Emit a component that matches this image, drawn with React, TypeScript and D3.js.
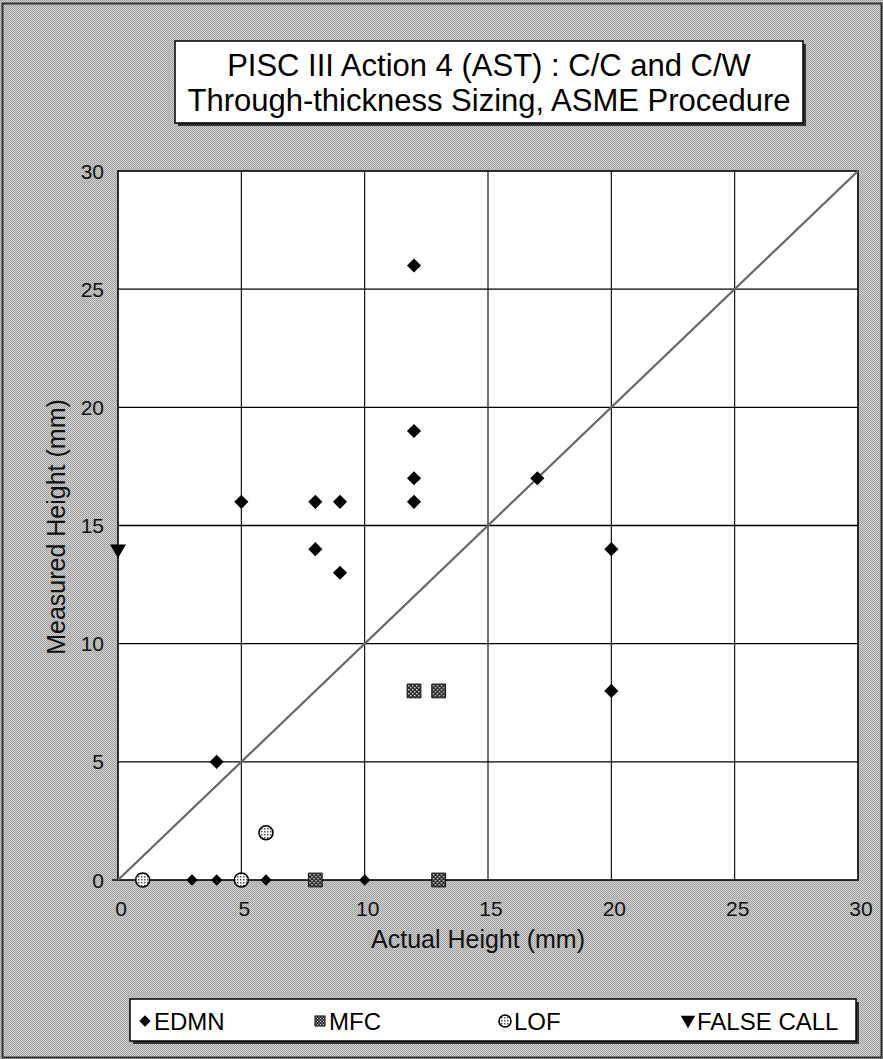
import React from "react";
import * as d3 from "d3";

const W = 883;
const H = 1059;

const titleLines = ["PISC III Action 4 (AST) : C/C and C/W", "Through-thickness Sizing, ASME Procedure"];
const xTicks = [0, 5, 10, 15, 20, 25, 30];
const yTicks = [0, 5, 10, 15, 20, 25, 30];
const xLabel = "Actual Height (mm)";
const yLabel = "Measured Height (mm)";

const edmnX = [12, 12, 12, 12, 17, 5, 8, 9, 8, 9, 20, 20, 4, 3, 4, 6, 10];
const edmnY = [26, 19, 17, 16, 17, 16, 16, 16, 14, 13, 14, 8, 5, 0, 0, 0, 0];
const mfcX = [12, 13, 8, 13];
const mfcY = [8, 8, 0, 0];
const lofX = [6, 1, 5];
const lofY = [2, 0, 0];
const falseX = [0];
const falseY = [14];

const legendItems = ["EDMN", "MFC", "LOF", "FALSE CALL"];

const FONT = "'Liberation Sans', Arial, Helvetica, sans-serif";

export default function App() {
  const x = d3.scaleLinear().domain([0, 30]).range([118, 858]);
  const y = d3.scaleLinear().domain([0, 30]).range([880, 171]);
  const x0 = x(0), x1 = x(30), y0 = y(0), y1 = y(30);

  const sq = d3.symbol().type(d3.symbolSquare).size(100)() as string;
  const mfcSq = d3.symbol().type(d3.symbolSquare).size(190)() as string;
  const tri = d3.symbol().type(d3.symbolTriangle).size(110)() as string;

  const diag = d3.line<number>().x((v) => x(v)).y((v) => y(v))([0, 30]) as string;

  const legendY = 1021;
  const legendPos = [145, 320, 505, 688];

  const diamond = (cx: number, cy: number, key: any, scale = 1) => (
    <path key={key} d={sq} transform={`translate(${cx},${cy}) rotate(45) scale(${scale})`} fill="#000" />
  );
  const mfc = (cx: number, cy: number, key: any, scale = 1) => (
    <path key={key} d={mfcSq} transform={`translate(${cx},${cy}) scale(${scale})`} fill="url(#hatch)" stroke="#111" strokeWidth={1} />
  );
  const lof = (cx: number, cy: number, key: any, r = 7) => (
    <circle key={key} cx={cx} cy={cy} r={r} fill="url(#dots)" stroke="#000" strokeWidth={1.6} />
  );
  const tr = (cx: number, cy: number, key: any, scale = 1) => (
    <path key={key} d={tri} transform={`translate(${cx},${cy}) rotate(180) scale(${scale})`} fill="#000" />
  );

  return (
    <svg width={W} height={H} style={{ position: "absolute", left: 0, top: 0 }} fontFamily={FONT}>
      <defs>
        <pattern id="half" width={2} height={2} patternUnits="userSpaceOnUse">
          <rect width={2} height={2} fill="#d2d2d2" />
          <rect x={0} y={0} width={1} height={1} fill="#999" />
          <rect x={1} y={1} width={1} height={1} fill="#a6a6a6" />
        </pattern>
        <pattern id="hatch" width={4} height={4} patternUnits="userSpaceOnUse">
          <rect width={4} height={4} fill="#222" />
          <rect x={0} y={0} width={1.5} height={1.5} fill="#ddd" />
          <rect x={2} y={2} width={1.5} height={1.5} fill="#ddd" />
        </pattern>
        <pattern id="dots" width={3} height={3} patternUnits="userSpaceOnUse">
          <rect width={3} height={3} fill="#fff" />
          <rect x={0} y={0} width={1.5} height={1.5} fill="#555" />
        </pattern>
      </defs>

      {/* background */}
      <rect x={0} y={0} width={W} height={H} fill="url(#half)" />
      <rect x={2.5} y={3.5} width={W - 4} height={H - 5} fill="none" stroke="#333" strokeWidth={2} />

      {/* title box */}
      <rect x={178} y={44} width={628} height={82} fill="#333" />
      <rect x={175} y={41} width={628} height={82} fill="#fff" stroke="#000" strokeWidth={1.5} />
      {titleLines.map((t, i) => (
        <text key={i} x={489} y={76 + i * 35} textAnchor="middle" fontSize={31} fill="#000">
          {t}
        </text>
      ))}

      {/* plot area */}
      <rect x={x0} y={y1} width={x1 - x0} height={y0 - y1} fill="#fff" />
      {xTicks.slice(1, -1).map((t) => (
        <line key={"gx" + t} x1={x(t)} x2={x(t)} y1={y1} y2={y0} stroke="#000" strokeWidth={1.1} />
      ))}
      {yTicks.slice(1, -1).map((t) => (
        <line key={"gy" + t} x1={x0} x2={x1} y1={y(t)} y2={y(t)} stroke="#000" strokeWidth={1.4} />
      ))}
      <rect x={x0} y={y1} width={x1 - x0} height={y0 - y1} fill="none" stroke="#000" strokeWidth={1.6} />
      <line x1={x0 - 6} x2={x0} y1={y0} y2={y0} stroke="#000" strokeWidth={1.4} />

      {/* diagonal */}
      <path d={diag} fill="none" stroke="#666" strokeWidth={2.2} />

      {/* tick labels */}
      {yTicks.map((t) => (
        <text key={"yl" + t} x={104} y={y(t)} dy="0.36em" textAnchor="end" fontSize={21} fill="#111">
          {t}
        </text>
      ))}
      {xTicks.map((t) => (
        <text key={"xl" + t} x={x(t) + 3} y={916} textAnchor="middle" fontSize={21} fill="#111">
          {t}
        </text>
      ))}
      <text x={478} y={948} textAnchor="middle" fontSize={25} fill="#111">
        {xLabel}
      </text>
      <text transform={`translate(56,527) rotate(-90)`} textAnchor="middle" fontSize={25} dy="0.35em" fill="#111">
        {yLabel}
      </text>

      {/* data */}
      {edmnX.map((v, i) => diamond(x(v), y(edmnY[i]), "e" + i, edmnY[i] === 0 ? 0.8 : 1))}
      {mfcX.map((v, i) => mfc(x(v), y(mfcY[i]), "m" + i))}
      {lofX.map((v, i) => lof(x(v), y(lofY[i]), "l" + i))}
      {falseX.map((v, i) => tr(x(v), y(falseY[i]), "f" + i))}

      {/* legend */}
      <rect x={133} y={1002} width={726} height={42} fill="#333" />
      <rect x={130} y={999} width={726} height={42} fill="#fff" stroke="#000" strokeWidth={1.5} />
      {diamond(legendPos[0], legendY, "ld", 0.8)}
      {mfc(legendPos[1], legendY, "lm", 0.75)}
      {lof(legendPos[2], legendY, "ll", 6)}
      {tr(legendPos[3], legendY - 1, "lt", 0.9)}
      {legendItems.map((t, i) => (
        <text key={"lg" + i} x={legendPos[i] + 9} y={legendY} dy="0.36em" fontSize={24} fill="#000">
          {t}
        </text>
      ))}
    </svg>
  );
}
